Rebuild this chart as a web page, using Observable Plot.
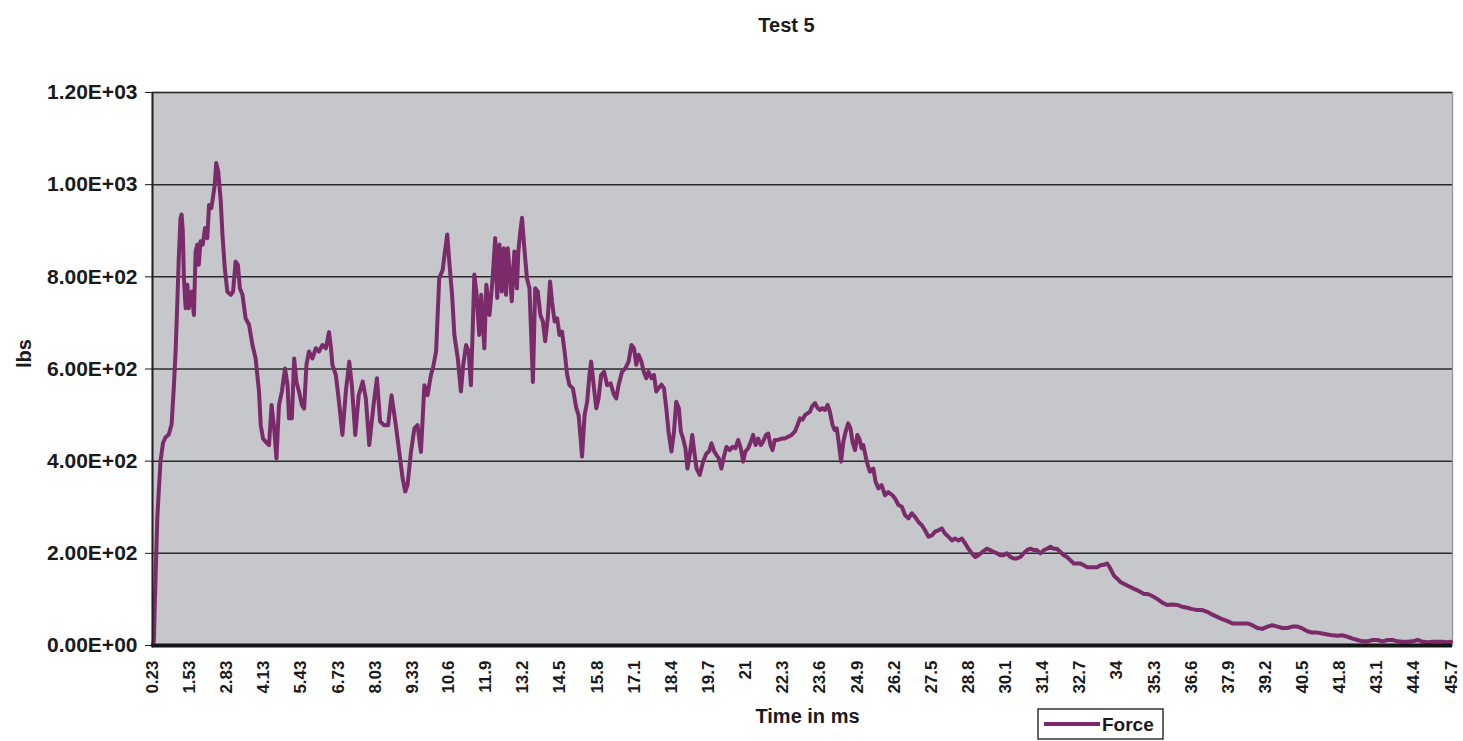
<!DOCTYPE html>
<html>
<head>
<meta charset="utf-8">
<script src="https://cdn.jsdelivr.net/npm/d3@7"></script>
<script src="https://cdn.jsdelivr.net/npm/@observablehq/plot@0.6"></script>
<style>
  html, body { margin: 0; padding: 0; background: #ffffff; }
  svg { font-family: "Liberation Sans", Arial, sans-serif; }
</style>
</head>
<body>
<div id="chart"></div>
<script>
// ---- Data ----
const chartTitle = "Test 5";
const xTitle = "Time in ms";
const yTitle = "lbs";
const seriesName = "Force";

const xTickLabels = ["0.23","1.53","2.83","4.13","5.43","6.73","8.03","9.33","10.6","11.9",
  "13.2","14.5","15.8","17.1","18.4","19.7","21","22.3","23.6","24.9","26.2","27.5","28.8",
  "30.1","31.4","32.7","34","35.3","36.6","37.9","39.2","40.5","41.8","43.1","44.4","45.7"];
const yTicks = [0, 200, 400, 600, 800, 1000, 1200];
const yTickLabels = ["0.00E+00","2.00E+02","4.00E+02","6.00E+02","8.00E+02","1.00E+03","1.20E+03"];

const timeMs = [
  0.23,0.28,0.31,0.40,0.51,0.60,0.69,0.80,0.90,0.98,1.04,1.10,1.15,1.21,1.25,1.29,1.33,1.39,1.45,1.50,
  1.60,1.68,1.74,1.80,1.85,1.91,1.99,2.07,2.15,2.21,2.29,2.36,2.41,2.46,2.53,2.62,2.68,2.76,2.85,2.97,
  3.05,3.14,3.22,3.29,3.38,3.49,3.61,3.73,3.84,3.96,4.02,4.10,4.19,4.31,4.40,4.49,4.57,4.66,4.76,4.87,
  4.96,5.01,5.11,5.19,5.27,5.36,5.46,5.54,5.62,5.71,5.83,5.95,6.06,6.18,6.30,6.41,6.48,6.53,6.65,6.76,
  6.88,7.00,7.12,7.21,7.33,7.45,7.59,7.70,7.82,7.97,8.09,8.20,8.34,8.48,8.60,8.75,8.87,8.99,9.08,9.16,
  9.28,9.40,9.51,9.63,9.75,9.86,9.98,10.06,10.16,10.27,10.39,10.47,10.55,10.62,10.72,10.80,10.92,11.03,11.11,11.21,
  11.30,11.38,11.44,11.50,11.58,11.67,11.74,11.85,11.92,12.03,12.14,12.23,12.30,12.38,12.46,12.53,12.61,12.67,12.73,12.81,
  12.90,12.99,13.04,13.11,13.17,13.25,13.34,13.43,13.49,13.55,13.63,13.72,13.81,13.90,13.98,14.07,14.15,14.22,14.31,14.40,
  14.48,14.57,14.66,14.75,14.83,14.95,15.07,15.15,15.21,15.27,15.36,15.45,15.53,15.59,15.69,15.77,15.85,15.94,16.04,16.15,
  16.27,16.39,16.47,16.55,16.67,16.79,16.90,17.00,17.09,17.17,17.25,17.35,17.43,17.52,17.60,17.70,17.79,17.87,17.95,18.05,
  18.14,18.22,18.30,18.40,18.49,18.57,18.66,18.73,18.81,18.89,18.96,19.04,19.13,19.20,19.28,19.39,19.51,19.63,19.72,19.80,
  19.90,19.98,20.06,20.15,20.25,20.33,20.44,20.54,20.64,20.74,20.83,20.91,20.99,21.09,21.18,21.26,21.35,21.44,21.53,21.61,
  21.71,21.79,21.87,21.94,22.02,22.14,22.26,22.37,22.49,22.61,22.72,22.82,22.90,22.99,23.08,23.17,23.25,23.33,23.43,23.52,
  23.60,23.68,23.78,23.87,23.95,24.04,24.11,24.19,24.27,24.34,24.42,24.50,24.59,24.67,24.74,24.83,24.91,24.98,25.06,25.12,
  25.24,25.35,25.47,25.55,25.65,25.76,25.88,25.99,26.14,26.23,26.35,26.47,26.58,26.70,26.82,26.93,27.05,27.17,27.28,27.40,
  27.52,27.63,27.75,27.87,27.98,28.10,28.22,28.33,28.45,28.57,28.69,28.80,28.92,29.04,29.15,29.29,29.44,29.56,29.68,29.80,
  29.91,30.03,30.15,30.27,30.38,30.50,30.62,30.73,30.85,30.97,31.09,31.20,31.32,31.44,31.55,31.67,31.79,31.90,32.02,32.14,
  32.25,32.37,32.49,32.60,32.72,32.84,32.96,33.07,33.19,33.31,33.42,33.54,33.66,33.77,33.89,34.01,34.12,34.24,34.36,34.47,
  34.59,34.71,34.83,34.94,35.06,35.18,35.30,35.41,35.59,35.76,35.94,36.11,36.29,36.46,36.64,36.81,36.99,37.16,37.34,37.51,
  37.69,37.87,38.04,38.22,38.39,38.57,38.74,38.92,39.09,39.27,39.44,39.62,39.79,39.97,40.14,40.32,40.49,40.67,40.84,41.02,
  41.19,41.37,41.55,41.72,41.90,42.07,42.25,42.42,42.60,42.77,42.95,43.12,43.30,43.48,43.65,43.83,44.00,44.18,44.35,44.53,
  44.70,44.88,45.05,45.23,45.40,45.58,45.70
];

const forceLbs = [
  0,10,90,280,400,440,452,458,480,565,640,746,840,927,935,900,797,732,783,732,
  768,717,855,870,826,877,870,906,884,956,949,978,1000,1047,1029,964,891,819,768,761,
  768,833,826,775,761,710,696,652,623,551,478,449,442,435,522,471,406,522,551,601,
  565,493,493,623,572,551,522,514,609,638,623,645,638,652,645,680,645,609,587,529,
  457,551,616,565,457,543,573,536,435,522,580,486,478,478,543,478,420,362,334,348,
  420,471,478,420,565,543,587,605,638,797,815,855,892,834,761,674,623,551,609,652,
  638,565,682,805,761,674,761,645,783,717,797,884,754,870,768,862,761,862,819,747,
  855,775,855,899,928,862,797,775,674,572,775,768,717,703,660,710,790,746,703,710,
  674,681,638,587,565,558,515,500,457,410,500,529,587,616,558,515,536,587,594,565,
  569,544,536,565,594,602,616,652,645,609,631,616,594,580,594,580,587,551,558,566,
  558,515,464,421,464,529,515,464,449,428,384,413,457,421,384,370,399,417,421,439,
  421,413,406,384,413,431,424,431,428,446,428,399,421,428,442,457,435,449,435,442,
  457,460,435,424,446,446,449,449,453,457,464,479,493,490,500,504,507,519,526,515,
  511,515,511,522,507,479,468,471,435,399,442,464,482,471,442,424,457,449,428,435,
  399,377,384,355,341,348,326,333,326,319,305,301,283,276,287,279,268,261,250,236,
  239,247,250,254,243,236,228,232,228,232,221,210,200,192,196,203,210,207,203,200,
  196,196,200,192,189,189,192,200,207,210,207,207,200,207,210,214,210,210,203,196,
  192,185,178,178,178,174,170,170,170,170,174,175,178,167,152,145,138,134,130,127,
  123,120,116,112,112,109,105,101,93,88,89,88,84,82,79,77,77,73,67,62,
  57,53,48,48,48,48,44,38,36,41,44,41,38,38,41,41,37,31,28,28,
  26,24,22,21,22,19,15,12,9,9,12,12,9,12,12,9,8,8,9,12,
  8,7,8,8,8,7,8
];

// ---- Build table ----
const data = timeMs.map((t, i) => ({time: t, force: forceLbs[i]}));
const xTicks = xTickLabels.map(Number);
const xDomain = [xTicks[0], 45.75];

const lineColor = "#7b2b69";
const bold = "bold";

const chart = Plot.plot({
  width: 1463,
  height: 741,
  marginLeft: 152,
  marginRight: 11,
  marginTop: 92,
  marginBottom: 96,
  style: {fontFamily: "'Liberation Sans', Arial, sans-serif", background: "#ffffff", color: "#1a1a1a"},
  x: {domain: xDomain},
  y: {domain: [0, 1200]},
  marks: [
    Plot.frame({fill: "#c5c7cb", stroke: "#9a9a9a", strokeWidth: 1.5}),
    Plot.gridY(yTicks, {stroke: "#2a2a2a", strokeOpacity: 1, strokeWidth: 1.5}),
    Plot.line(data, {x: "time", y: "force", stroke: lineColor, strokeWidth: 4, strokeLinejoin: "round", strokeLinecap: "round"}),
    Plot.ruleY([0], {stroke: "#151515", strokeWidth: 4}),
    Plot.ruleX([xDomain[0]], {stroke: "#222222", strokeWidth: 2}),
    Plot.axisY({
      ticks: yTicks,
      tickFormat: d => yTickLabels[yTicks.indexOf(d)],
      tickSize: 7, tickPadding: 8,
      fontSize: 21, fontWeight: bold,
      label: null
    }),
    Plot.axisX({
      ticks: xTicks,
      tickFormat: d => xTickLabels[xTicks.indexOf(d)],
      tickRotate: -90,
      tickSize: 0, tickPadding: 15,
      fontSize: 17, fontWeight: bold,
      label: null
    }),
    Plot.text([chartTitle], {frameAnchor: "top", dx: -16, dy: -75, fontSize: 20, fontWeight: bold}),
    Plot.text([xTitle], {frameAnchor: "bottom", dx: 5, dy: 77, fontSize: 20, fontWeight: bold}),
    Plot.text([yTitle], {frameAnchor: "left", dx: -128, dy: -1, rotate: -90, fontSize: 20, fontWeight: bold})
  ]
});

// ---- Legend (boxed, bottom right like the reference) ----
const svg = d3.select(chart);
const lg = svg.append("g").attr("class", "legend");
lg.append("rect").attr("x", 1038).attr("y", 709).attr("width", 125).attr("height", 30)
  .attr("fill", "#ffffff").attr("stroke", "#333333").attr("stroke-width", 1.5);
lg.append("line").attr("x1", 1044).attr("x2", 1100).attr("y1", 724).attr("y2", 724)
  .attr("stroke", lineColor).attr("stroke-width", 4);
lg.append("text").attr("x", 1102).attr("y", 724).attr("dy", "0.35em")
  .attr("text-anchor", "start")
  .attr("font-size", 19).attr("font-weight", "bold").attr("fill", "#1a1a1a").text(seriesName);

document.getElementById("chart").appendChild(chart);
</script>
</body>
</html>
